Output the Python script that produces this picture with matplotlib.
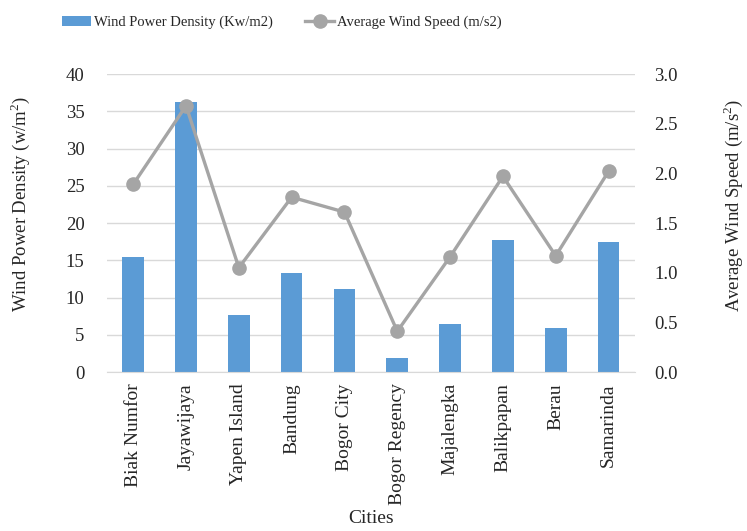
import matplotlib.pyplot as plt
import numpy as np

plt.rcParams.update({
    "font.family": ["Liberation Serif", "DejaVu Serif"],
    "font.size": 13.5,
    "text.color": "#262626",
    "axes.labelcolor": "#262626",
    "xtick.color": "#262626",
    "ytick.color": "#262626",
    "mathtext.fontset": "custom",
    "mathtext.rm": "Liberation Serif",
})

cities = ["Biak Numfor", "Jayawijaya", "Yapen Island", "Bandung", "Bogor City",
          "Bogor Regency", "Majalengka", "Balikpapan", "Berau", "Samarinda"]
power_density = [15.4, 36.2, 7.6, 13.3, 11.2, 1.9, 6.5, 17.7, 5.9, 17.5]
wind_speed = [1.89, 2.68, 1.05, 1.76, 1.61, 0.41, 1.16, 1.97, 1.17, 2.02]

fig = plt.figure(figsize=(7.47, 5.31), dpi=100)
ax = fig.add_axes([0.143, 0.2994, 0.707, 0.5612])
x = np.arange(len(cities))

bars = ax.bar(x, power_density, width=0.41, color="#5B9BD5", zorder=2,
              label="Wind Power Density (Kw/m2)")
ax.set_ylim(0, 40)
ax.set_yticks(range(0, 41, 5))
ax.set_xlim(-0.5, len(cities) - 0.5)
ax.set_xticks(x)
ax.set_xticklabels(cities, rotation=90, va="top", ha="center", fontsize=14)
ax.grid(axis="y", color="#D9D9D9", lw=1, zorder=0)
for s in ["top", "left", "right"]:
    ax.spines[s].set_visible(False)
ax.spines["bottom"].set_color("#D9D9D9")
ax.tick_params(axis="y", length=0, pad=16)
ax.tick_params(axis="x", length=0, pad=8)
ax.set_ylabel("Wind Power Density (w/m$^2$)")
ax.yaxis.label.set_va("center")
ax.yaxis.set_label_coords(-0.165, 0.565)
ax.set_xlabel("Cities", fontsize=14)
ax.xaxis.label.set_va("center")
ax.xaxis.set_label_coords(0.5, -0.49)

ax2 = ax.twinx()
line, = ax2.plot(x, wind_speed, color="#A5A5A5", lw=2.4, marker="o", ms=9.5,
                 zorder=3, label="Average Wind Speed (m/s2)")
ax2.set_ylim(0, 3.0)
ticks2 = np.arange(0, 3.01, 0.5)
ax2.set_yticks(ticks2)
ax2.set_yticklabels([f"{v:.1f}" for v in ticks2])
for s in ax2.spines.values():
    s.set_visible(False)
ax2.tick_params(length=0, pad=14)
ax2.set_ylabel("Average Wind Speed (m/s$^2$)")
ax2.yaxis.label.set_va("center")
ax2.yaxis.set_label_coords(1.185, 0.56)

fig.legend(handles=[bars, line], loc="center left", bbox_to_anchor=(0.083, 0.958),
           ncol=2, frameon=False, handlelength=2.0, handletextpad=0.2,
           columnspacing=2.2, fontsize=10.5, borderaxespad=0, borderpad=0)

fig.savefig("out.png", dpi=100)
